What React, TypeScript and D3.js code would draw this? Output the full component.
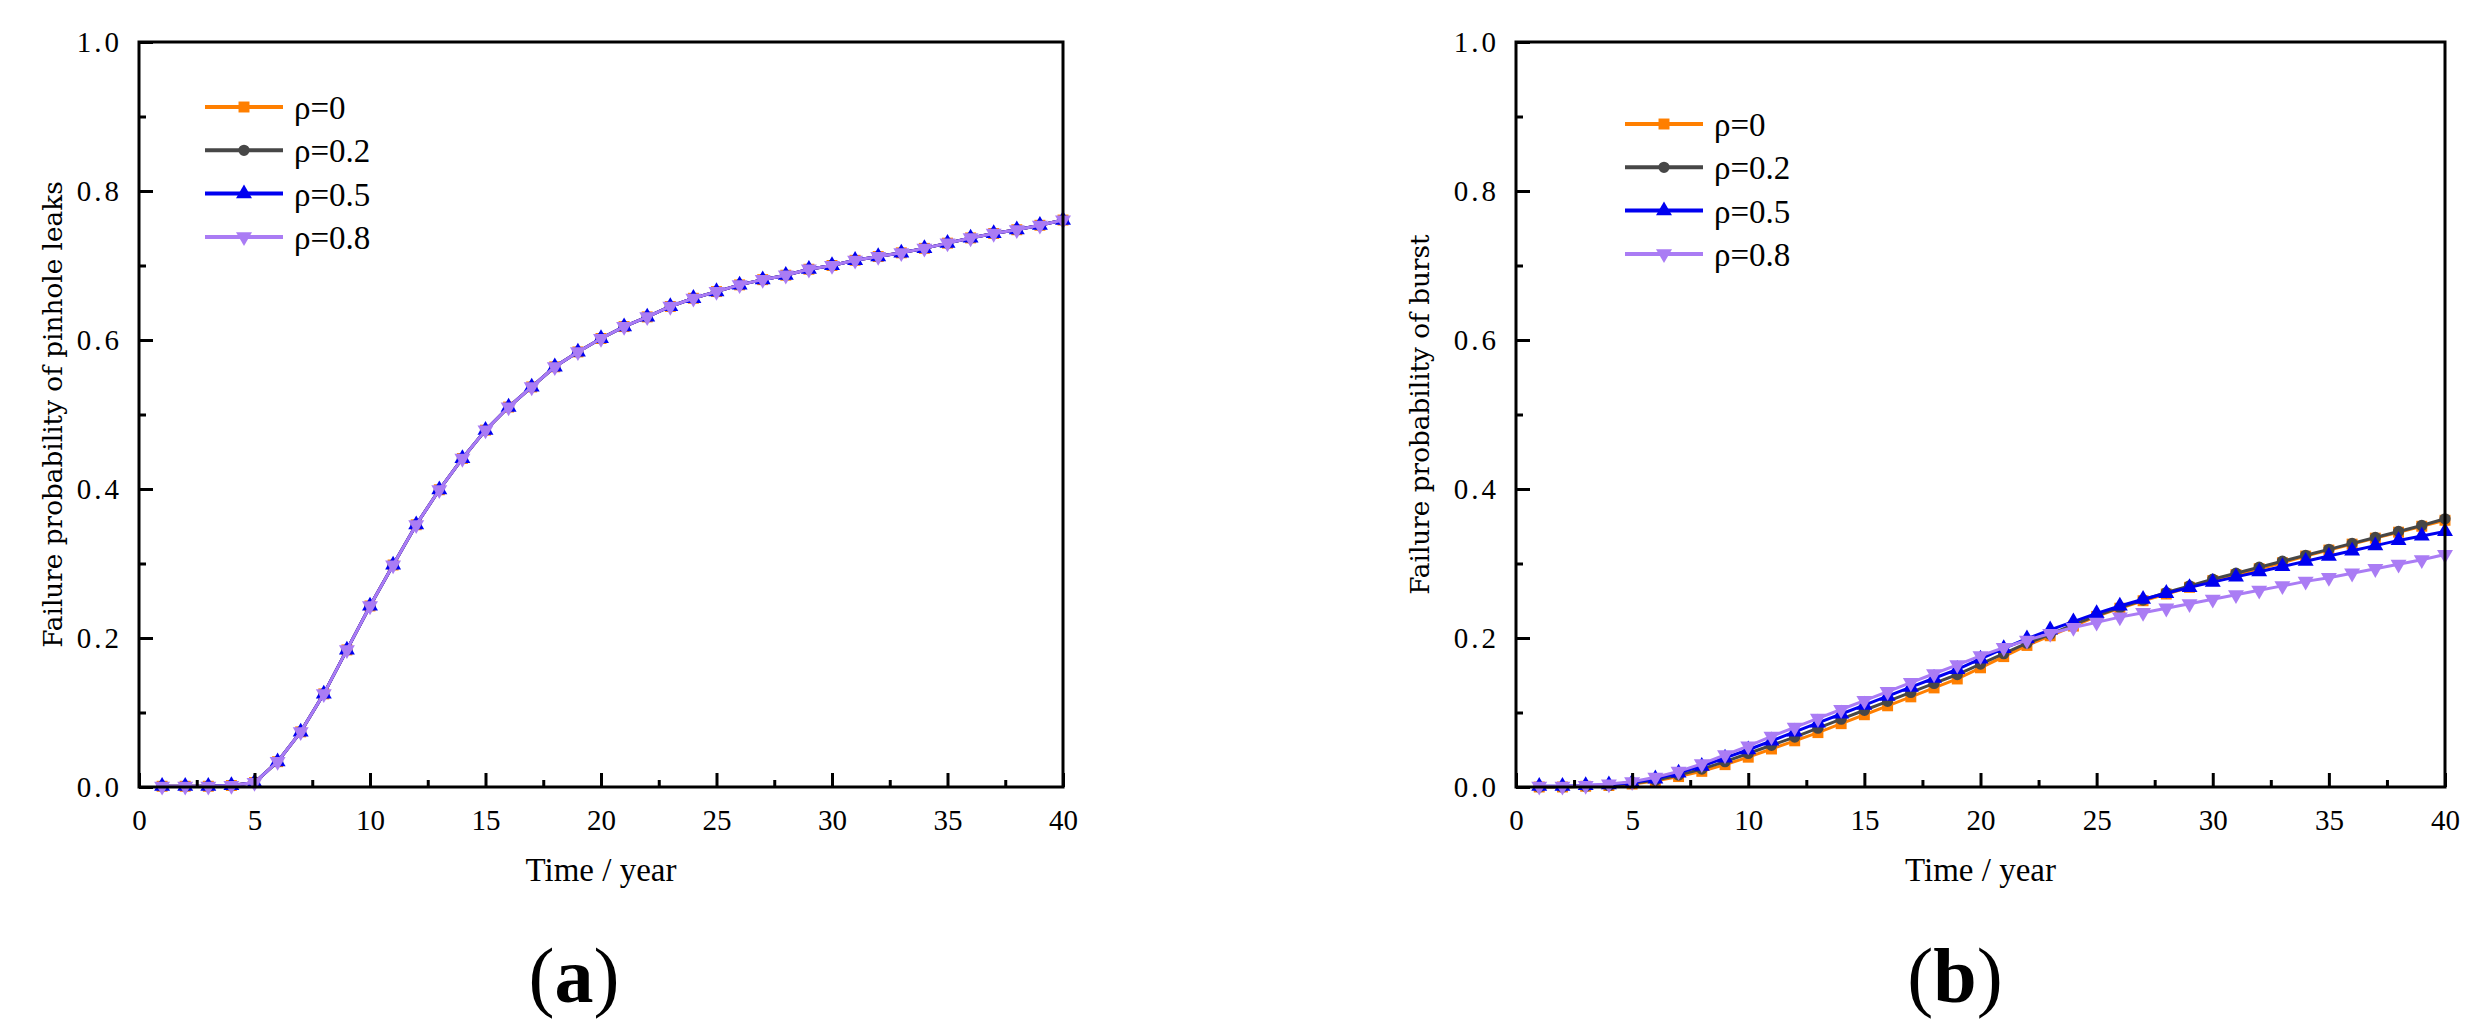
import * as d3 from "d3";
import { useEffect, useRef } from "react";

// time axis, years 1..40
const years = [
  1, 2, 3, 4, 5, 6, 7, 8, 9, 10, 11, 12, 13, 14, 15, 16, 17, 18, 19, 20,
  21, 22, 23, 24, 25, 26, 27, 28, 29, 30, 31, 32, 33, 34, 35, 36, 37, 38, 39, 40,
];

const rhoLabels = ["ρ=0", "ρ=0.2", "ρ=0.5", "ρ=0.8"];

// (a) pinhole leaks - all four correlation cases lie on one curve
const leakRho0 = [
  0.001, 0.001, 0.001, 0.002, 0.006, 0.034, 0.074, 0.125, 0.184, 0.243,
  0.298, 0.352, 0.399, 0.441, 0.479, 0.510, 0.537, 0.564, 0.584, 0.602,
  0.618, 0.631, 0.645, 0.656, 0.665, 0.674, 0.681, 0.687, 0.695, 0.700,
  0.707, 0.712, 0.717, 0.723, 0.730, 0.737, 0.743, 0.748, 0.754, 0.761,
];
const leakRho02 = leakRho0;
const leakRho05 = leakRho0;
const leakRho08 = leakRho0;

// (b) burst
const burstRho0 = [
  0.000, 0.000, 0.001, 0.002, 0.004, 0.008, 0.014, 0.021, 0.030, 0.040,
  0.051, 0.062, 0.073, 0.085, 0.097, 0.109, 0.121, 0.133, 0.145, 0.160,
  0.175, 0.190, 0.203, 0.216, 0.229, 0.240, 0.250, 0.259, 0.268, 0.277,
  0.285, 0.293, 0.301, 0.310, 0.318, 0.326, 0.334, 0.342, 0.350, 0.358,
];
const burstRho02 = [
  0.000, 0.000, 0.001, 0.002, 0.005, 0.009, 0.016, 0.024, 0.034, 0.045,
  0.056, 0.067, 0.079, 0.091, 0.103, 0.115, 0.127, 0.139, 0.151, 0.165,
  0.179, 0.193, 0.205, 0.218, 0.230, 0.241, 0.251, 0.261, 0.270, 0.279,
  0.287, 0.295, 0.303, 0.311, 0.319, 0.327, 0.335, 0.343, 0.351, 0.360,
];
const burstRho05 = [
  0.001, 0.001, 0.002, 0.003, 0.006, 0.011, 0.019, 0.028, 0.039, 0.050,
  0.062, 0.074, 0.086, 0.098, 0.110, 0.122, 0.134, 0.146, 0.158, 0.172,
  0.186, 0.199, 0.211, 0.222, 0.233, 0.243, 0.252, 0.260, 0.268, 0.275,
  0.282, 0.289, 0.296, 0.303, 0.310, 0.317, 0.324, 0.331, 0.337, 0.343,
];
const burstRho08 = [
  0.001, 0.001, 0.002, 0.004, 0.007, 0.013, 0.021, 0.031, 0.043, 0.055,
  0.068, 0.080, 0.092, 0.104, 0.116, 0.128, 0.140, 0.152, 0.164, 0.176,
  0.187, 0.197, 0.206, 0.214, 0.221, 0.228, 0.234, 0.240, 0.246, 0.252,
  0.258, 0.264, 0.270, 0.276, 0.281, 0.287, 0.293, 0.299, 0.305, 0.312,
];

const xMajorTicks = [0, 5, 10, 15, 20, 25, 30, 35, 40];
const xMinorTicks = [2.5, 7.5, 12.5, 17.5, 22.5, 27.5, 32.5, 37.5];
const yMajorTicks = [0, 0.2, 0.4, 0.6, 0.8, 1.0];
const yMinorTicks = [0.1, 0.3, 0.5, 0.7, 0.9];

const colors = ["#ff7f00", "#474747", "#0000f0", "#aa7cf4"];
const symbols = [d3.symbolSquare, d3.symbolCircle, d3.symbolTriangle, d3.symbolTriangle];
const symbolSizes = [120, 100, 110, 110];
const flipped = [false, false, false, true];

const serif = "'Liberation Serif', 'Times New Roman', serif";

type Panel = {
  left: number;
  right: number;
  top: number;
  bottom: number;
  series: number[][];
  yTitle: string;
  yTitleX: number;
  legendX: number;
  legendY: number;
  tag: string;
  tagX: number;
};

function drawPanel(svg: d3.Selection<SVGSVGElement, unknown, null, undefined>, p: Panel) {
  const x = d3.scaleLinear([0, 40], [p.left, p.right]);
  const y = d3.scaleLinear([0, 1], [p.bottom, p.top]);
  const g = svg.append("g");

  // series
  p.series.forEach((values, k) => {
    const line = d3.line<number>((d, i) => x(years[i]), d => y(d));
    g.append("path")
      .attr("d", line(values))
      .attr("fill", "none")
      .attr("stroke", colors[k])
      .attr("stroke-width", 3);
    const sym = d3.symbol(symbols[k], symbolSizes[k])();
    g.append("g")
      .selectAll("path")
      .data(values)
      .join("path")
      .attr("transform", (d, i) => `translate(${x(years[i])},${y(d)})${flipped[k] ? " rotate(180)" : ""}`)
      .attr("d", sym)
      .attr("fill", colors[k]);
  });

  // x axis
  const xAxis = g.append("g").attr("transform", `translate(0,${p.bottom})`);
  xAxis.call(d3.axisBottom(x).tickValues(xMajorTicks).tickSize(-14).tickPadding(22).tickFormat(d3.format("d")));
  xAxis.append("g").call(d3.axisBottom(x).tickValues(xMinorTicks).tickSize(-7).tickFormat(() => ""));

  // y axis
  const yAxis = g.append("g").attr("transform", `translate(${p.left},0)`);
  yAxis.call(d3.axisLeft(y).tickValues(yMajorTicks).tickSize(-14).tickPadding(17).tickFormat(d3.format(".1f")));
  yAxis.append("g").call(d3.axisLeft(y).tickValues(yMinorTicks).tickSize(-7).tickFormat(() => ""));

  g.selectAll(".domain").remove();
  g.selectAll(".tick line").attr("stroke", "#000").attr("stroke-width", 3);
  xAxis.attr("font-family", serif);
  yAxis.attr("font-family", serif);
  xAxis.selectAll("text").attr("font-family", serif).attr("font-size", 29).attr("fill", "#000");
  yAxis.selectAll("text").attr("font-family", serif).attr("font-size", 29).attr("fill", "#000")
    .attr("letter-spacing", 3);

  // frame
  g.append("rect")
    .attr("x", p.left)
    .attr("y", p.top)
    .attr("width", p.right - p.left)
    .attr("height", p.bottom - p.top)
    .attr("fill", "none")
    .attr("stroke", "#000")
    .attr("stroke-width", 3);

  // titles
  g.append("text")
    .attr("x", (p.left + p.right) / 2)
    .attr("y", 881)
    .attr("text-anchor", "middle")
    .attr("font-family", serif)
    .attr("font-size", 33)
    .text("Time / year");

  const cy = (p.top + p.bottom) / 2;
  g.append("text")
    .attr("transform", `translate(${p.yTitleX},${cy}) rotate(-90)`)
    .attr("text-anchor", "middle")
    .attr("dominant-baseline", "central")
    .attr("font-family", "'DejaVu Serif', serif")
    .attr("font-size", 26.3)
    .text(p.yTitle);

  // legend
  rhoLabels.forEach((lab, k) => {
    const ly = p.legendY + k * 43.3;
    const lg = g.append("g");
    lg.append("line")
      .attr("x1", p.legendX)
      .attr("x2", p.legendX + 78)
      .attr("y1", ly)
      .attr("y2", ly)
      .attr("stroke", colors[k])
      .attr("stroke-width", 4);
    lg.append("path")
      .attr("transform", `translate(${p.legendX + 39},${ly})${flipped[k] ? " rotate(180)" : ""}`)
      .attr("d", d3.symbol(symbols[k], symbolSizes[k])())
      .attr("fill", colors[k]);
    lg.append("text")
      .attr("x", p.legendX + 89)
      .attr("y", ly + 12)
      .attr("font-family", serif)
      .attr("font-size", 33)
      .text(lab);
  });

  // panel tag
  const t = g.append("text")
    .attr("x", p.tagX)
    .attr("y", 1002)
    .attr("text-anchor", "middle")
    .attr("font-family", serif)
    .attr("font-size", 78);
  t.append("tspan").text("(");
  t.append("tspan").attr("font-weight", "bold").text(p.tag);
  t.append("tspan").text(")");
}

export default function App() {
  const width = 2477;
  const height = 1034;
  const svgRef = useRef<SVGSVGElement>(null);

  useEffect(() => {
    const svgEl = d3.select(svgRef.current);
    svgEl.selectAll("*").remove();

    drawPanel(svgEl as any, {
      left: 139, right: 1063, top: 42, bottom: 787,
      series: [leakRho0, leakRho02, leakRho05, leakRho08],
      yTitle: "Failure probability of pinhole leaks",
      yTitleX: 53,
      legendX: 205, legendY: 107,
      tag: "a", tagX: 574,
    });

    drawPanel(svgEl as any, {
      left: 1516, right: 2445, top: 42, bottom: 787,
      series: [burstRho0, burstRho02, burstRho05, burstRho08],
      yTitle: "Failure probability of burst",
      yTitleX: 1420,
      legendX: 1625, legendY: 124,
      tag: "b", tagX: 1955,
    });
  }, []);

  return (
    <svg
      ref={svgRef}
      width={width}
      height={height}
      style={{ position: "absolute", left: 0, top: 0, background: "#fff" }}
      xmlns="http://www.w3.org/2000/svg"
    />
  );
}
